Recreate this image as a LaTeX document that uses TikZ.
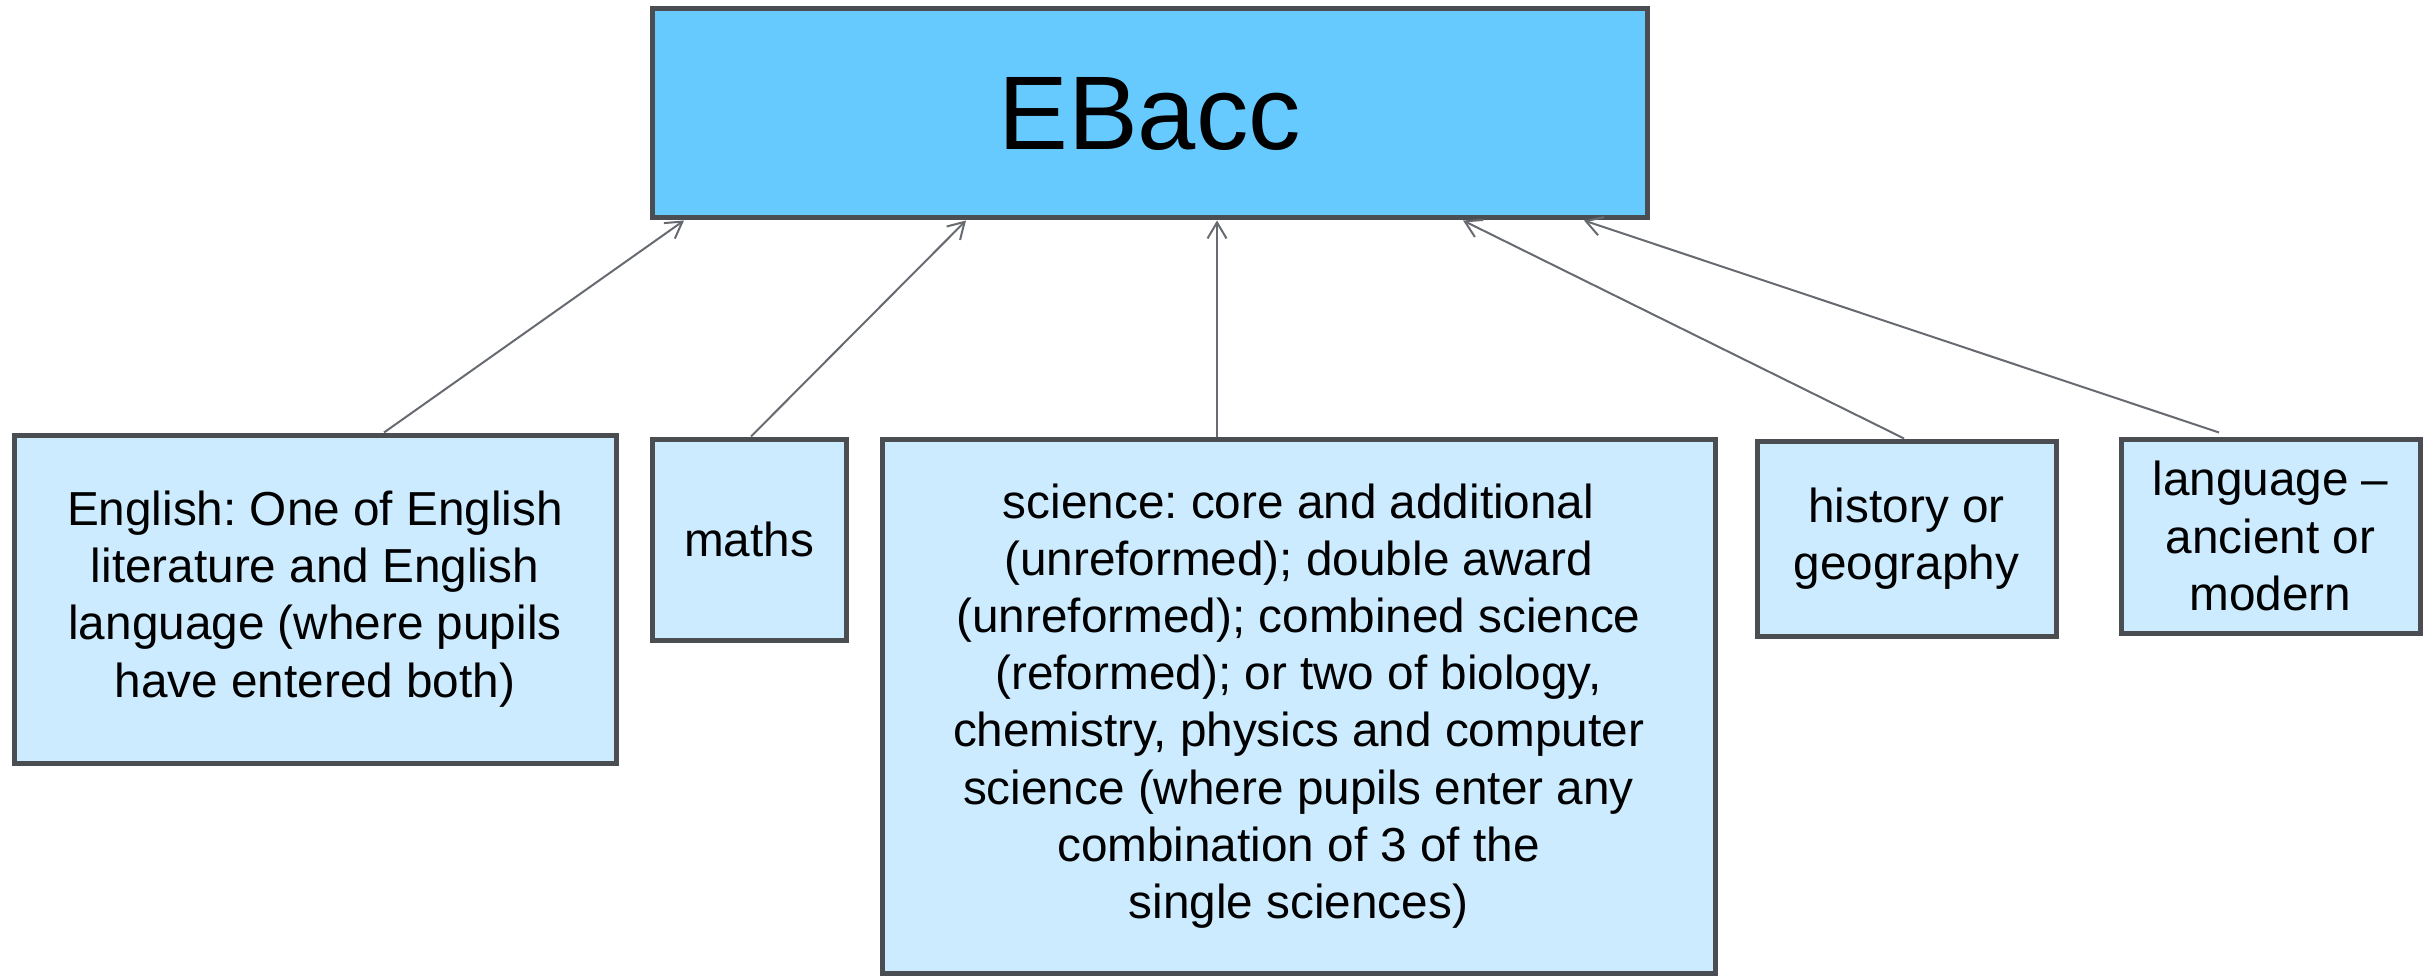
\documentclass[tikz,border=0pt]{standalone}
\usepackage{fontspec}
\setmainfont{Liberation Sans}
\usetikzlibrary{arrows.meta}
\definecolor{topfill}{HTML}{66CAFF}
\definecolor{boxfill}{HTML}{CCEBFF}
\definecolor{boxline}{HTML}{4A4D52}
\definecolor{connline}{HTML}{676A70}
\tikzset{
  bx/.style={draw=boxline, line width=5pt, fill=boxfill, rectangle, inner sep=0pt,
    align=center, font=\frenchspacing\fontsize{47.7pt}{57.2pt}\selectfont, text=black},
  topbox/.style={bx, fill=topfill, font=\fontsize{104.7pt}{120pt}\selectfont},
  conn/.style={draw=connline, line width=2pt, -{Straight Barb[length=16pt,width=19pt,line width=2pt]}}
}
\begin{document}
\frenchspacing
\begin{tikzpicture}[x=1pt,y=-1pt]
\useasboundingbox (0,0) rectangle (2425,976);
\node[topbox, minimum width=995pt, minimum height=209pt] (top) at (1149.5,113.5) {EBacc};
\node[bx, minimum width=602pt, minimum height=328pt] (eng) at (315,599)
  {\raisebox{-6pt}{\parbox{600pt}{\centering English: One of English\\literature and English\\language (where pupils\\have entered both)}}};
\node[bx, minimum width=194pt, minimum height=201pt] (maths) at (749,539.5) {maths};
\node[bx, minimum width=833pt, minimum height=534pt] (sci) at (1298.5,706)
  {\raisebox{-4pt}{\parbox{830pt}{\centering science: core and additional\\(unreformed); double award\\(unreformed); combined science\\(reformed); or two of biology,\\chemistry, physics and computer\\science (where pupils enter any\\combination of 3 of the\\single sciences)}}};
\node[bx, minimum width=299pt, minimum height=195pt] (hist) at (1906.5,538.5) {history or\\geography};
\node[bx, minimum width=299pt, minimum height=194pt] (lang) at (2270.5,536) {language –\\ancient or\\modern};
\draw[conn] ([xshift=69pt]eng.north) -- ([xshift=-465.5pt]top.south);
\draw[conn] ([xshift=2pt]maths.north) -- ([xshift=-183.5pt]top.south);
\draw[conn] ([xshift=-81.5pt]sci.north) -- ([xshift=67.5pt]top.south);
\draw[conn] ([xshift=-2.5pt]hist.north) -- ([xshift=313.5pt]top.south);
\draw[conn] ([xshift=-51.5pt,yshift=4pt]lang.north) -- ([xshift=434.5pt]top.south);
\end{tikzpicture}
\end{document}
